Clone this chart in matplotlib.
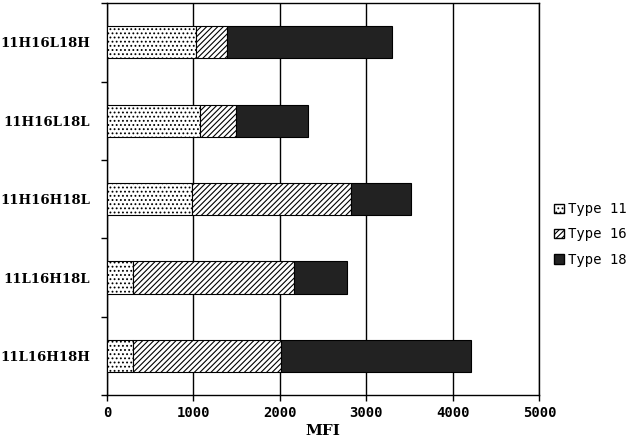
import numpy as np
import matplotlib
matplotlib.use("Agg")
from matplotlib import pyplot as plt
from matplotlib.patches import Patch

# stacked MFI per genotype (bottom to top)
groups = ['11L16H18H', '11L16H18L', '11H16H18L', '11H16L18L', '11H16L18H']
type11 = [300, 300, 985, 1075, 1030]
type16 = [1715, 1865, 1840, 420, 360]
type18 = [2200, 615, 695, 830, 1910]

plt.rcParams['hatch.linewidth'] = 0.8
fig = plt.figure(figsize=(6.36, 4.42), dpi=100)
ax = fig.add_axes([0.168, 0.106, 0.680, 0.887])

y = np.arange(len(groups))
h = 0.41
left16 = np.array(type11)
left18 = left16 + np.array(type16)
ax.barh(y, type11, height=h, color='white', edgecolor='black', hatch='....', lw=0.8, zorder=3)
ax.barh(y, type16, left=left16, height=h, color='white', edgecolor='black', hatch='//////', lw=0.8, zorder=3)
ax.barh(y, type18, left=left18, height=h, color='#222222', edgecolor='black', lw=0.8, zorder=3)

ax.set_xlim(0, 5000)
ax.set_ylim(-0.5, len(groups) - 0.5)
ax.set_xticks([0, 1000, 2000, 3000, 4000, 5000])
ax.xaxis.grid(True, color='black', lw=1.0, zorder=0)
ax.set_yticks(np.arange(-0.5, len(groups), 1.0))
ax.set_yticklabels([])
ax.set_yticks(y, minor=True)
ax.set_yticklabels(groups, minor=True, fontfamily='DejaVu Serif', fontweight='bold', fontsize=9.5)
ax.tick_params(axis='y', which='minor', length=0, pad=12)
ax.tick_params(axis='y', which='major', length=4, width=1)
ax.tick_params(axis='x', length=4, width=1, pad=4)
for lab in ax.get_xticklabels():
    lab.set_fontfamily('DejaVu Sans Mono')
    lab.set_fontweight('bold')
    lab.set_fontsize(10)
for s in ax.spines.values():
    s.set_linewidth(1.0)
ax.set_xlabel('MFI', fontfamily='DejaVu Serif', fontweight='bold', fontsize=11, labelpad=3)

handles = [Patch(facecolor='white', edgecolor='black', hatch='....', label='Type 11'),
           Patch(facecolor='white', edgecolor='black', hatch='//////', label='Type 16'),
           Patch(facecolor='#222222', edgecolor='black', label='Type 18')]
ax.legend(handles=handles, loc='center left', bbox_to_anchor=(1.005, 0.41), frameon=False,
          handlelength=0.7, handleheight=0.7, handletextpad=0.3, labelspacing=0.8,
          prop={'family': 'DejaVu Sans Mono', 'size': 10})

fig.savefig('out.png', dpi=100)
